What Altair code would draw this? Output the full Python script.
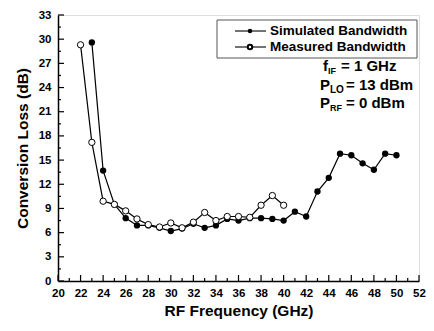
import altair as alt
import pandas as pd

sim_freq = [23, 24, 25, 26, 27, 28, 29, 30, 31, 32, 33, 34, 35, 36, 37, 38, 39, 40,
            41, 42, 43, 44, 45, 46, 47, 48, 49, 50]
sim_loss = [29.6, 13.7, 9.5, 7.8, 6.9, 6.9, 6.6, 6.2, 6.5, 7.1, 6.6, 6.9, 7.7, 7.5, 7.8, 7.8, 7.7, 7.5,
            8.6, 8.0, 11.1, 12.8, 15.8, 15.6, 14.6, 13.8, 15.8, 15.6]
meas_freq = [22, 23, 24, 25, 26, 27, 28, 29, 30, 31, 32, 33, 34, 35, 36, 37, 38, 39, 40]
meas_loss = [29.3, 17.2, 9.9, 9.5, 8.7, 7.7, 7.0, 6.7, 7.2, 6.6, 7.3, 8.5, 7.5, 8.0, 8.0, 7.9, 9.4, 10.6, 9.4]

x_major = list(range(20, 53, 2))
x_minor = list(range(21, 52, 2))
y_major = list(range(0, 34, 3))
y_minor = [1.5 + 3 * i for i in range(11)]

W, H = 361, 266
FONT = "Liberation Sans"

sim = pd.DataFrame({"f": sim_freq, "l": sim_loss})
meas = pd.DataFrame({"f": meas_freq, "l": meas_loss})

xs = alt.Scale(domain=[20, 52], nice=False, zero=False)
ys = alt.Scale(domain=[0, 33], nice=False)

common = dict(ticks=False, grid=False, domainColor="black", domainWidth=1.5,
              labelFont=FONT, labelFontWeight="bold", labelFontSize=11.5, labelColor="black",
              labelOverlap=False, labelFlush=False, titleFont=FONT, titleFontWeight="bold",
              titleFontSize=15.5, titleColor="black")
xax = alt.Axis(values=x_major, labelPadding=6, title="RF Frequency (GHz)", titlePadding=5, **common)
yax = alt.Axis(values=y_major, labelPadding=7, title="Conversion Loss (dB)", titlePadding=8, **common)

X = lambda f: alt.X(f, scale=xs, axis=xax)
Y = lambda f: alt.Y(f, scale=ys, axis=yax)

sim_line = alt.Chart(sim).mark_line(color="black", strokeWidth=1.2).encode(
    x=X("f:Q"), y=Y("l:Q"))
sim_pts = alt.Chart(sim).mark_point(filled=True, color="black", size=40, opacity=1).encode(
    x=X("f:Q"), y=Y("l:Q"))
meas_line = alt.Chart(meas).mark_line(color="black", strokeWidth=1.2).encode(
    x=X("f:Q"), y=Y("l:Q"))
meas_pts = alt.Chart(meas).mark_point(filled=True, fill="white", stroke="black", strokeWidth=1,
                                      size=40, opacity=1).encode(x=X("f:Q"), y=Y("l:Q"))

def xticks(vals, ln):
    return alt.Chart(pd.DataFrame({"f": vals})).mark_rule(color="black", strokeWidth=1.2).encode(
        x=X("f:Q"), y=alt.value(H), y2=alt.value(H - ln))

def yticks(vals, ln):
    return alt.Chart(pd.DataFrame({"l": vals})).mark_rule(color="black", strokeWidth=1.2).encode(
        y=Y("l:Q"), x=alt.value(0), x2=alt.value(ln))

one = pd.DataFrame({"a": [0]})

legend_box = alt.Chart(one).mark_rect(fill="white", stroke="#555", strokeWidth=1).encode(
    x=alt.value(159), x2=alt.value(359), y=alt.value(5), y2=alt.value(43))

def seg(y):
    return alt.Chart(one).mark_rule(color="black", strokeWidth=1.1).encode(
        x=alt.value(177), x2=alt.value(208), y=alt.value(y))

leg_sim_pt = alt.Chart(one).mark_point(filled=True, color="black", size=20, opacity=1).encode(
    x=alt.value(192), y=alt.value(16))
leg_meas_pt = alt.Chart(one).mark_point(filled=True, fill="white", stroke="black", size=20,
                                        opacity=1).encode(x=alt.value(192), y=alt.value(32))

def txt(s, x, y, size=13.5):
    return alt.Chart(one).mark_text(text=s, align="left", baseline="middle", font=FONT,
                                    fontWeight="bold", fontSize=size, color="black").encode(
        x=alt.value(x), y=alt.value(y))

annos = [
    txt("Simulated Bandwidth", 212, 16),
    txt("Measured Bandwidth", 212, 32),
    txt("f", 265, 51, 15), txt("IF", 270, 56, 9), txt("= 1 GHz", 283, 51, 15),
    txt("P", 262, 70, 15), txt("LO", 272, 75, 10), txt("= 13 dBm", 288, 70, 15),
    txt("P", 262, 88, 15), txt("RF", 272, 93, 9), txt("= 0 dBm", 288, 88, 15),
]

chart = alt.layer(
    sim_line, xticks(x_major, 6), xticks(x_minor, 3), yticks(y_major, 6), yticks(y_minor, 3),
    sim_pts, meas_line, meas_pts, legend_box, seg(16), seg(32), leg_sim_pt, leg_meas_pt, *annos
).properties(
    width=W, height=H,
    autosize=alt.AutoSizeParams(type="none"),
    padding={"left": 50, "top": 7, "right": 7, "bottom": 42},
).configure_view(stroke="black", strokeWidth=1.5).configure(background="white")

chart.save("out.html", embed_options={"renderer": "svg", "actions": False})
